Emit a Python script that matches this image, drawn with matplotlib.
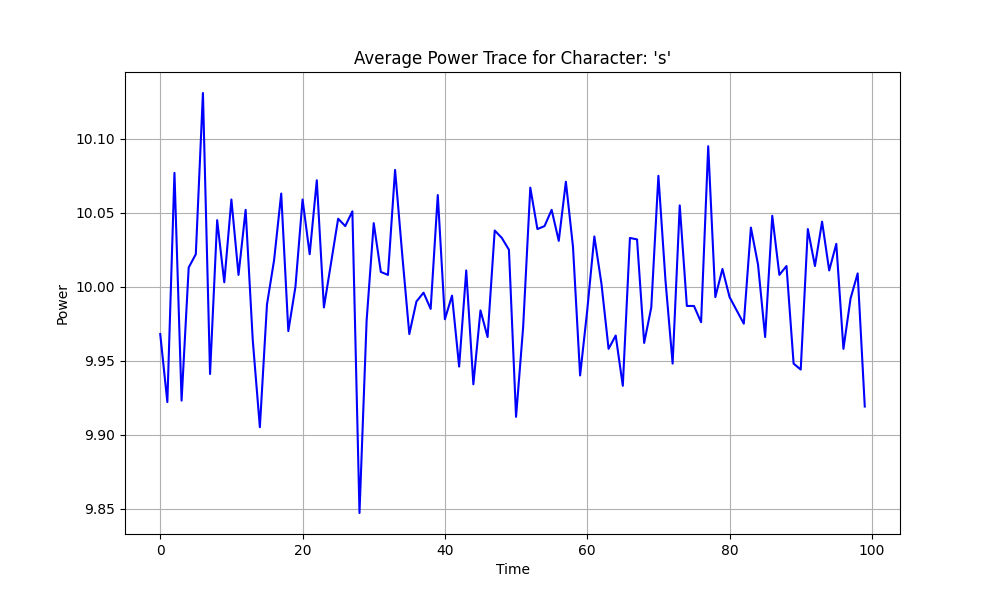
import numpy as np
import matplotlib
matplotlib.use('Agg')
import matplotlib.pyplot as plt

char = 's'

power = [
    9.968, 9.922, 10.077, 9.923, 10.013, 10.022, 10.131, 9.941, 10.045, 10.003,
    10.059, 10.008, 10.052, 9.964, 9.905, 9.988, 10.018, 10.063, 9.970, 10.000,
    10.059, 10.022, 10.072, 9.986, 10.016, 10.046, 10.041, 10.051, 9.847, 9.977,
    10.043, 10.010, 10.008, 10.079, 10.022, 9.968, 9.990, 9.996, 9.985, 10.062,
    9.978, 9.994, 9.946, 10.011, 9.934, 9.984, 9.966, 10.038, 10.033, 10.025,
    9.912, 9.973, 10.067, 10.039, 10.041, 10.052, 10.031, 10.071, 10.027, 9.940,
    9.984, 10.034, 10.002, 9.958, 9.967, 9.933, 10.033, 10.032, 9.962, 9.986,
    10.075, 10.004, 9.948, 10.055, 9.987, 9.987, 9.976, 10.095, 9.993, 10.012,
    9.993, 9.984, 9.975, 10.040, 10.015, 9.966, 10.048, 10.008, 10.014, 9.948,
    9.944, 10.039, 10.014, 10.044, 10.011, 10.029, 9.958, 9.992, 10.009, 9.919,
]
time = np.arange(len(power))

plt.figure(figsize=(10, 6), dpi=100)
plt.plot(time, power, color='b')
plt.title(f"Average Power Trace for Character: '{char}'")
plt.xlabel('Time')
plt.ylabel('Power')
plt.grid(True)
plt.savefig('out.png')
